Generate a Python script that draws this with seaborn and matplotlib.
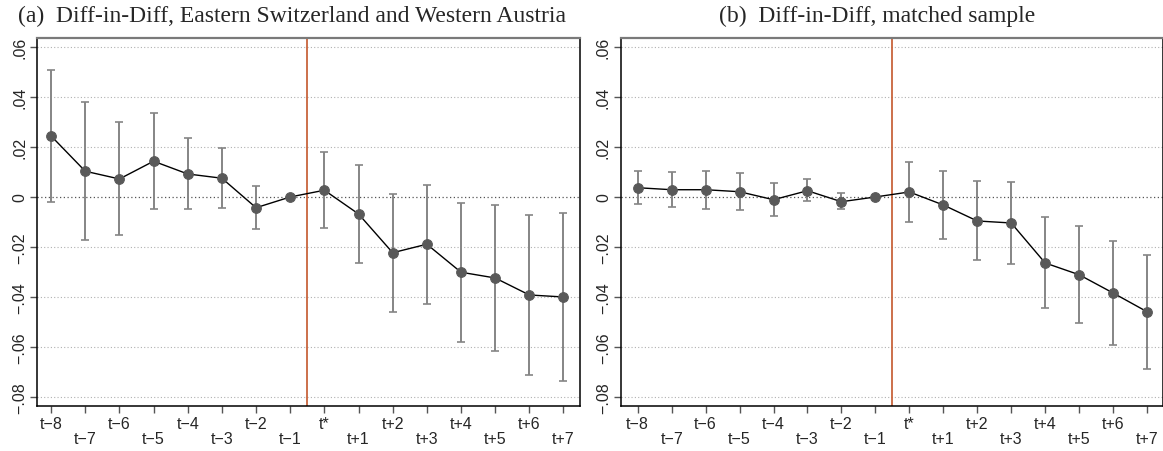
import numpy as np
import pandas as pd
import matplotlib
matplotlib.use("Agg")
import matplotlib.pyplot as plt
import seaborn as sns

# Event-time labels
periods = ["t\u22128", "t\u22127", "t\u22126", "t\u22125", "t\u22124", "t\u22123", "t\u22122", "t\u22121",
           "t*", "t+1", "t+2", "t+3", "t+4", "t+5", "t+6", "t+7"]

# (a) Eastern Switzerland and Western Austria
est_a = [0.0244, 0.0103, 0.0072, 0.0143, 0.0092, 0.0075, -0.0043, 0.0,
         0.0027, -0.0068, -0.0223, -0.0189, -0.0301, -0.0324, -0.0392, -0.0400]
lo_a = [-0.0020, -0.0173, -0.0152, -0.0048, -0.0047, -0.0045, -0.0128, 0.0,
        -0.0123, -0.0264, -0.0459, -0.0427, -0.0579, -0.0616, -0.0711, -0.0735]
hi_a = [0.0507, 0.0380, 0.0299, 0.0335, 0.0236, 0.0197, 0.0045, 0.0,
        0.0179, 0.0128, 0.0013, 0.0048, -0.0024, -0.0032, -0.0073, -0.0064]

# (b) matched sample
est_b = [0.0037, 0.0029, 0.0029, 0.0021, -0.0011, 0.0025, -0.0019, 0.0,
         0.0020, -0.0032, -0.0096, -0.0104, -0.0264, -0.0311, -0.0384, -0.0459]
lo_b = [-0.0028, -0.0039, -0.0047, -0.0052, -0.0077, -0.0017, -0.0049, 0.0,
        -0.0099, -0.0169, -0.0252, -0.0268, -0.0445, -0.0503, -0.0591, -0.0687]
hi_b = [0.0105, 0.0099, 0.0105, 0.0095, 0.0057, 0.0071, 0.0015, 0.0,
        0.0140, 0.0105, 0.0064, 0.0059, -0.0081, -0.0117, -0.0176, -0.0232]

titles = ["(a)  Diff-in-Diff, Eastern Switzerland and Western Austria",
          "(b)  Diff-in-Diff, matched sample"]
yticks = [-0.08, -0.06, -0.04, -0.02, 0.0, 0.02, 0.04, 0.06]

sns.set_theme(style="white")
plt.rcParams["font.family"] = ["Liberation Sans", "DejaVu Sans"]


def fmt_tick(v):
    if abs(v) < 1e-12:
        return "0"
    s = f"{abs(v):.2f}".lstrip("0")
    return ("\u2212" if v < 0 else "") + s


fig = plt.figure(figsize=(11.63, 4.52), dpi=100)
ax_a = fig.add_axes([0.0316, 0.0996, 0.4673, 0.8142])
ax_b = fig.add_axes([0.5337, 0.0996, 0.4660, 0.8142])

panels = [(ax_a, est_a, lo_a, hi_a, (-0.42, 15.49)),
          (ax_b, est_b, lo_b, hi_b, (-0.50, 15.46))]

for ax, est, lo, hi, xlim in panels:
    df = pd.DataFrame({"pos": np.arange(len(periods)), "period": periods,
                       "est": est, "lo": lo, "hi": hi})

    # horizontal dotted reference lines
    for yv in yticks:
        if abs(yv) < 1e-12:
            ax.axhline(yv, color="#555555", lw=0.9, ls=(0, (1, 2)), zorder=1)
        else:
            ax.axhline(yv, color="#b0b0b0", lw=0.8, ls=(0, (1, 2)), zorder=1)

    # treatment onset
    ax.axvline(7.5, color="#c4582c", lw=1.2, zorder=2)

    # confidence intervals (skip the reference period)
    ci = df[(df["hi"] - df["lo"]) > 0]
    ax.errorbar(ci["pos"], ci["est"],
                yerr=[ci["est"] - ci["lo"], ci["hi"] - ci["est"]],
                fmt="none", ecolor="#858585", elinewidth=1.4, capsize=2.6,
                capthick=1.2, zorder=3)

    sns.lineplot(data=df, x="pos", y="est", ax=ax, color="black", lw=1.0,
                 marker="o", markersize=7, markerfacecolor="#595959",
                 markeredgecolor="#595959", zorder=4, legend=False)

    ax.set_xlim(*xlim)
    ax.set_ylim(-0.0836, 0.0636)
    ax.set_xticks(df["pos"])
    ax.set_xticklabels([p if i % 2 == 0 else "\n" + p for i, p in enumerate(periods)],
                       fontsize=11.5, linespacing=1.05)
    ax.set_yticks(yticks)
    ax.set_yticklabels([fmt_tick(v) for v in yticks], rotation=90, va="center",
                       fontsize=11.5)
    ax.tick_params(axis="both", which="major", direction="out", length=5,
                   width=1.0, color="#555555", bottom=True, left=True, pad=2)
    ax.set_xlabel("")
    ax.set_ylabel("")
    ax.grid(False)

    for side in ["left", "bottom", "right"]:
        ax.spines[side].set_color("black")
        ax.spines[side].set_linewidth(1.1)
    ax.spines["top"].set_color("#7a7a7a")
    ax.spines["top"].set_linewidth(1.6)

serif = ["Liberation Serif", "DejaVu Serif"]
ax_a.text(0.470, 1.062, titles[0], transform=ax_a.transAxes, ha="center",
          va="center", fontsize=17, family=serif)
ax_b.text(0.473, 1.062, titles[1], transform=ax_b.transAxes, ha="center",
          va="center", fontsize=17, family=serif)

fig.savefig("out.png", dpi=100)
